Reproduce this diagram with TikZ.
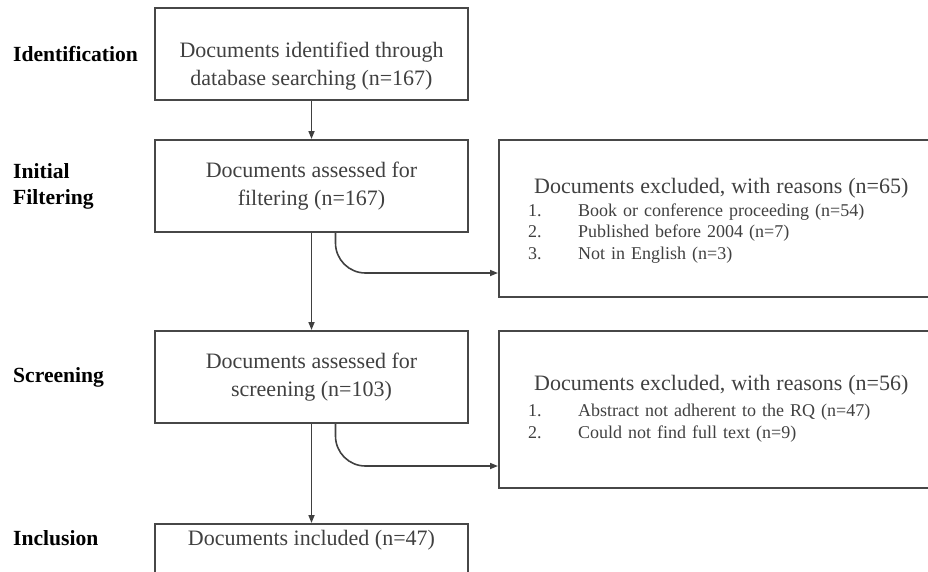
\documentclass[tikz,border=0pt]{standalone}
\usepackage{fontspec}
\setmainfont{Liberation Serif}
\usepackage{xcolor}
\usetikzlibrary{arrows.meta,positioning,calc}

\begin{document}
\begin{tikzpicture}[
  x=1pt, y=-1pt,
  node distance=38pt and 29pt,
  box/.style={draw=black!72, line width=2pt, minimum width=313pt, minimum height=92pt,
              inner sep=0pt, align=center, text=black!75,
              font=\fontsize{22}{27.5}\selectfont},
  exbox/.style={draw=black!72, line width=2pt, minimum width=430pt, minimum height=157pt,
              inner sep=0pt},
  extext/.style={anchor=base west, inner sep=0pt, text width=390pt, align=left,
              text=black!75, font=\fontsize{18}{21.5}\selectfont},
  stage/.style={anchor=west, inner sep=0pt, align=left,
              font=\bfseries\fontsize{21.6}{26}\selectfont},
  ar/.style={-{Triangle[length=8pt,width=6pt]}, draw=black!75, line width=1.6pt},
  exarrow/.style={ar, rounded corners=30pt}
]
  \useasboundingbox (0,0) rectangle (928,571);
  % main column
  \node[box] (ident) at (311.5,54) {\rule{0pt}{40pt}Documents identified through\\database searching (n=167)};
  \node[box, below=of ident] (filt) {Documents assessed for\\filtering (n=167)};
  \node[box, below=97pt of filt] (screen) {Documents assessed for\\screening (n=103)};
  \node[box, below=99pt of screen, text height=21pt, text depth=70pt] (incl) {Documents included (n=47)};
  % excluded boxes
  \node[exbox, right=of filt.north east, anchor=north west] (excl1) {};
  \node[exbox, right=of screen.north east, anchor=north west] (excl2) {};
  \node[extext] (excl1txt) at ([xshift=30pt,yshift=-54pt]excl1.north west)
    {\hspace*{6pt}{\fontsize{22}{21.5}\selectfont Documents excluded, with reasons (n=65)}\\[1.5pt]
     \makebox[50pt][l]{1.}Book or conference proceeding (n=54)\\
     \makebox[50pt][l]{2.}Published before 2004 (n=7)\\
     \makebox[50pt][l]{3.}Not in English (n=3)};
  \node[extext] (excl2txt) at ([xshift=30pt,yshift=-60pt]excl2.north west)
    {\hspace*{6pt}{\fontsize{22}{21.5}\selectfont Documents excluded, with reasons (n=56)}\\[5pt]
     \makebox[50pt][l]{1.}Abstract not adherent to the RQ (n=47)\\
     \makebox[50pt][l]{2.}Could not find full text (n=9)};
  % stage labels
  \node[stage] (lblident) at (13,0 |- ident) {Identification};
  \node[stage] (lblfilt) at (13,0 |- filt) {Initial\\Filtering};
  \node[stage] (lblscreen) at (13,0 |- screen) {Screening};
  \node[stage, anchor=base west] (lblincl) at (13,0 |- incl.base) {Inclusion};
  % connectors
  \draw[ar] (ident) -- (filt);
  \draw[ar] (filt) -- (screen);
  \draw[ar] (screen) -- (incl.north);
  \draw[exarrow] ([xshift=24pt]filt.south) |- ([yshift=-54.5pt]excl1.west);
  \draw[exarrow] ([xshift=24pt]screen.south) |- ([yshift=-56.5pt]excl2.west);
\end{tikzpicture}
\end{document}
